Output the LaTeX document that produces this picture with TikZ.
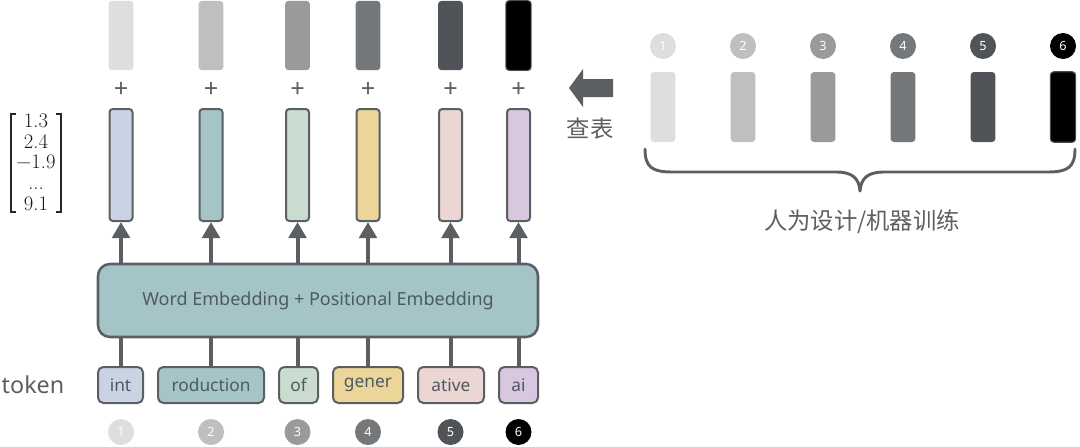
\documentclass[tikz,border=0pt]{standalone}
\usepackage{fontspec}
\setmainfont{Noto Sans}
\setsansfont{Noto Sans}
\newfontfamily\cjk{Noto Sans CJK SC}
\newfontfamily\lmr{Latin Modern Roman}
\usetikzlibrary{arrows.meta}
\definecolor{edge}{HTML}{5B5F62}
\definecolor{txt}{HTML}{4E5A61}
\definecolor{g1}{HTML}{DDDEDF}
\definecolor{g2}{HTML}{BEBFC1}
\definecolor{g3}{HTML}{989A9C}
\definecolor{g4}{HTML}{75787B}
\definecolor{g5}{HTML}{505458}
\definecolor{g6}{HTML}{000000}
\definecolor{c1}{HTML}{C9D3E3}
\definecolor{c2}{HTML}{A5C4C7}
\definecolor{c3}{HTML}{CADBD0}
\definecolor{c4}{HTML}{EBD598}
\definecolor{c5}{HTML}{EBD6D3}
\definecolor{c6}{HTML}{D9C7DF}
\tikzset{
  gbar/.style={rectangle, rounded corners=2.5pt, minimum width=18.5pt, minimum height=52pt, inner sep=0pt},
  cbar/.style={rectangle, rounded corners=2.5pt, minimum width=17.25pt, minimum height=84pt, draw=edge, line width=1.5pt, inner sep=0pt},
  tok/.style={rectangle, rounded corners=4pt, minimum height=27pt, draw=edge, line width=1.5pt, inner sep=0pt, text=txt, font=\fontsize{13}{15}\selectfont},
  num/.style={circle, minimum size=19.5pt, inner sep=0pt, text=white, font=\fontsize{9.5}{10}\selectfont},
  plus/.style={text=edge, font=\fontsize{19}{20}\selectfont},
  arr/.style={draw=edge, line width=3pt, -{Triangle[width=13pt,length=12pt]}},
  conn/.style={draw=edge, line width=3pt},
  lbl/.style={text=edge},
  brk/.style={draw=black!85, line width=0.8pt},
}
\begin{document}
\begin{tikzpicture}[x=0.75pt,y=-0.75pt]
\useasboundingbox (0,0) rectangle (1080,446);
% left columns
\foreach \i/\x in {1/121,2/211,3/297.5,4/368,5/450.5,6/518.5}{
  \node[gbar, fill=g\i] (t\i) at (\x,35.5) {};
  \node[plus] (pl\i) at (\x,90) {+};
  \node[cbar, fill=c\i] (b\i) at (\x,165) {};
  \node[num, fill=g\i] (p\i) at (\x,432) {\i};
}
\draw[draw=gray!60!black, line width=0.8pt, rounded corners=2.5pt] (t6.south west) rectangle (t6.north east);
% embedding box
\node[rectangle, rounded corners=9pt, minimum width=330pt, minimum height=54.75pt, draw=edge, line width=1.9pt, fill=c2, text=txt, font=\fontsize{13.5}{15}\selectfont] (emb) at (318,300.5) {Word Embedding + Positional Embedding};
% tokens
\node[tok, fill=c1, minimum width=33.75pt] (k1) at (120.5,385) {int};
\node[tok, fill=c2, minimum width=79.5pt] (k2) at (211,385) {roduction};
\node[tok, fill=c3, minimum width=29.25pt] (k3) at (298.5,385) {of};
\node[tok, fill=c4, minimum width=52.5pt] (k4) at (368,385) {gener};
\node[tok, fill=c5, minimum width=49.5pt] (k5) at (451,385) {ative};
\node[tok, fill=c6, minimum width=29.25pt] (k6) at (518.5,385) {ai};
\node[text=edge, font=\fontsize{17.5}{19}\selectfont] (tokenlbl) at (33,385) {token};
% connectors
\foreach \i in {1,...,6}{
  \draw[arr] (emb.north -| b\i) -- (b\i.south);
  \draw[conn] (k\i.north -| b\i) -- (emb.south -| b\i);
}
% vector
\node[text=black!90, align=center, inner sep=0pt, font=\lmr\fontsize{15.5}{15.5}\selectfont] (vec) at (36,162) {1.3\\2.4\\−1.9\\...\\9.1};
\draw[brk] (16,114) -- (11,114) -- (11,212) -- (16,212);
\draw[brk] (56,114) -- (61,114) -- (61,212) -- (56,212);
% right side
\foreach \i/\x in {1/663,2/743,3/823,4/903,5/983,6/1063}{
  \node[num, fill=g\i] (q\i) at (\x,46) {\i};
  \node[gbar, fill=g\i, minimum height=52.5pt] (r\i) at (\x,107) {};
}
\draw[draw=gray!60!black, line width=0.8pt, rounded corners=2.5pt] (r6.south west) rectangle (r6.north east);
% lookup arrow
\fill[edge] (613,79) -- (583,79) -- (583,69) -- (569,88) -- (583,107) -- (583,97) -- (613,97) -- cycle;
\node[lbl, font=\cjk\fontsize{17.5}{19}\selectfont] (lookup) at (590,129) {查表};
% brace
\draw[edge, line width=2.2pt, line cap=round, line join=round]
  (645,149) .. controls (645,167) and (652,172) .. (672,172) -- (836,172)
  .. controls (852,172) and (859,178) .. (860,191)
  .. controls (861,178) and (868,172) .. (884,172) -- (1048,172)
  .. controls (1068,172) and (1075,167) .. (1075,149);
\node[lbl, font=\cjk\fontsize{17.5}{19}\selectfont] (design) at (862,222) {人为设计/机器训练};
\end{tikzpicture}
\end{document}
